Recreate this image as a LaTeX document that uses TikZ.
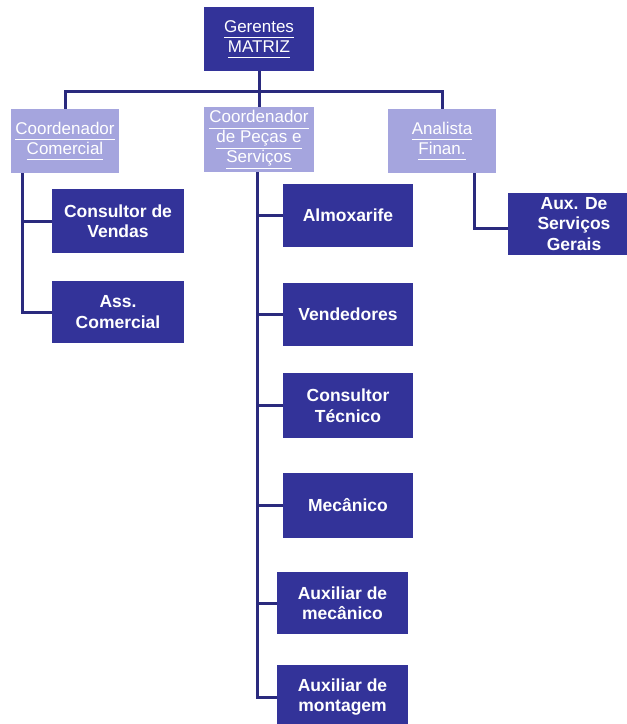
\documentclass[tikz,border=0pt]{standalone}
\usepackage{fontspec}
\setmainfont{Liberation Sans}
\definecolor{dk}{HTML}{333399}
\definecolor{lt}{HTML}{A5A5DE}
\definecolor{ln}{HTML}{2A2A7E}
\newcommand{\ulx}[1]{\underline{#1\vphantom{ç}}}
\tikzset{
  dbox/.style={fill=dk, text=white, font=\fontsize{17.5}{20.5}\selectfont\bfseries, align=center, inner sep=0pt},
  lbox/.style={fill=lt, text=white, font=\fontsize{17}{20}\selectfont, align=center, inner sep=0pt},
  tbox/.style={fill=dk, text=white, font=\fontsize{17}{20}\selectfont, align=center, inner sep=0pt},
  conn/.style={draw=ln, line width=3pt},
}
\begin{document}
\begin{tikzpicture}[x=1pt,y=-1pt]
\useasboundingbox[fill=white] (0,0) rectangle (627,724);
\node[tbox, minimum width=110pt, minimum height=64pt] (top) at (259,39) {\ulx{Gerentes}\\\ulx{MATRIZ}};
\node[lbox, minimum width=108pt, minimum height=64pt] (cc) at (65,141) {\ulx{Coordenador}\\\ulx{Comercial}};
\node[lbox, minimum width=110pt, minimum height=65pt] (cp) at (259,139.5) {\ulx{Coordenador}\\\ulx{de Peças e}\\\ulx{Serviços}};
\node[lbox, minimum width=108pt, minimum height=64pt] (an) at (442,141) {\ulx{Analista}\\\ulx{Finan.}};
\node[dbox, minimum width=132pt, minimum height=64pt] (cv) at (118,221) {Consultor de\\Vendas};
\node[dbox, minimum width=132pt, minimum height=62pt] (ac) at (118,312) {Ass.\\Comercial};
\node[dbox, minimum width=130pt, minimum height=63pt] (am) at (348,215.5) {Almoxarife};
\node[dbox, minimum width=130pt, minimum height=63pt] (ve) at (348,314.5) {Vendedores};
\node[dbox, minimum width=130pt, minimum height=65pt] (ct) at (348,405.5) {Consultor\\Técnico};
\node[dbox, minimum width=130pt, minimum height=65pt] (me) at (348,505.5) {Mecânico};
\node[dbox, minimum width=131pt, minimum height=62pt] (aum) at (342.5,603) {Auxiliar de\\mecânico};
\node[dbox, minimum width=131pt, minimum height=64pt] (aumo) at (342.5,697) {Auxiliar de\\montagem};
\node[dbox, minimum width=132pt, minimum height=62pt] (ax) at (574,224) {Aux. De\\Serviços\\Gerais};
\draw[conn] (top.south) -- (cp.north);
\draw[conn] (cc.north) -- ++(0,-17) -| (an.north);
\draw[conn] ([xshift=12pt]cc.south west) |- (cv.west);
\draw[conn] ([xshift=12pt]cc.south west) |- (ac.west);
\draw[conn] ([xshift=54pt]cp.south west) |- (am.west);
\draw[conn] ([xshift=54pt]cp.south west) |- (ve.west);
\draw[conn] ([xshift=54pt]cp.south west) |- (ct.west);
\draw[conn] ([xshift=54pt]cp.south west) |- (me.west);
\draw[conn] ([xshift=54pt]cp.south west) |- (aum.west);
\draw[conn] ([xshift=54pt]cp.south west) |- (aumo.west);
\draw[conn] ([xshift=87pt]an.south west) |- ([yshift=-4pt]ax.west);
\end{tikzpicture}
\end{document}
